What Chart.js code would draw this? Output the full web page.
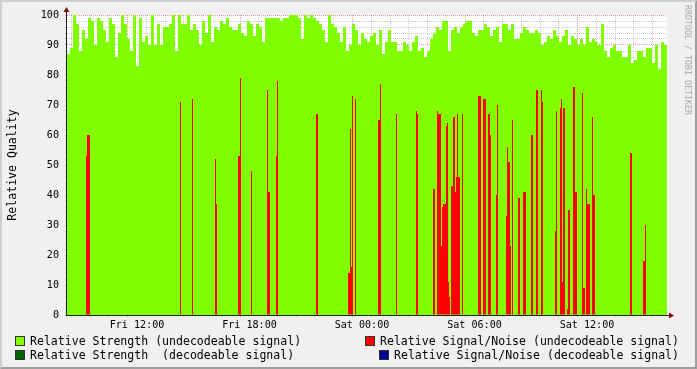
<!DOCTYPE html>
<html>
<head>
<meta charset="utf-8">
<script src="https://cdn.jsdelivr.net/npm/chart.js@4.4.0/dist/chart.umd.min.js"></script>
<style>
  html, body { margin: 0; padding: 0; }
  body {
    width: 697px; height: 369px; position: relative; overflow: hidden;
    background: #f0f0f0; font-family: 'DejaVu Sans Mono', monospace; color: #000;
  }
  #frame {
    position: absolute; left: 0; top: 0; width: 697px; height: 369px; box-sizing: border-box;
    border-top: 2px solid #cfcfcf; border-left: 2px solid #cfcfcf;
    border-right: 2px solid #9e9e9e; border-bottom: 2px solid #9e9e9e;
  }
  #chart { position: absolute; left: 0; top: 0; }
  .ytitle {
    position: absolute; left: -88px; top: 158px; width: 200px; line-height: 14px;
    text-align: center; font-size: 11.55px; transform: rotate(-90deg);
  }
  .mark {
    position: absolute; left: 628px; top: 55px; width: 120px; line-height: 10px;
    text-align: center; font-size: 8.3px; color: #a8a8a8; transform: rotate(90deg);
  }
  .item { position: absolute; font-size: 11.55px; line-height: 12px; white-space: pre; }
  .swatch { position: absolute; width: 8px; height: 8px; border: 1px solid #333; }
</style>
</head>
<body>
<div id="frame"></div>
<canvas id="chart" width="697" height="340"></canvas>
<div class="ytitle">Relative Quality</div>
<div class="mark">RRDTOOL / TOBI OETIKER</div>

<div class="swatch" style="left:15px; top:336px; background:#80ff00"></div>
<div class="item" style="left:30px; top:335px">Relative Strength (undecodeable signal)</div>
<div class="swatch" style="left:15px; top:350px; background:#006400"></div>
<div class="item" style="left:30px; top:349px">Relative Strength  (decodeable signal)</div>
<div class="swatch" style="left:365px; top:336px; background:#ff0000"></div>
<div class="item" style="left:380px; top:335px">Relative Signal/Noise (undecodeable signal)</div>
<div class="swatch" style="left:379px; top:350px; background:#000099"></div>
<div class="item" style="left:394px; top:349px">Relative Signal/Noise (decodeable signal)</div>

<script>
// time in minutes from Fri 00:00
const windowStart = 496;   // Fri 08:16
const windowEnd = 2416;    // Sat 16:16
const stepMinutes = 9.6;

// Relative Strength (undecodeable signal), one value per step
const strengthUndecodeable = [
  87, 89, 100, 97, 88, 95, 92, 99, 98, 90,
  99, 98, 95, 91, 99, 97, 86, 94, 100, 97,
  92, 88, 100, 83, 99, 91, 93, 90, 100, 90,
  97, 90, 96, 96, 97, 100, 88, 100, 97, 97,
  100, 95, 97, 95, 90, 98, 94, 100, 91, 96,
  95, 98, 97, 99, 96, 95, 95, 97, 94, 93,
  98, 97, 93, 97, 96, 91, 99, 99, 99, 99,
  99, 98, 99, 99, 100, 100, 100, 99, 92, 100,
  99, 100, 99, 98, 97, 95, 91, 100, 97, 96,
  94, 91, 96, 88, 90, 97, 95, 90, 94, 92,
  91, 93, 94, 90, 95, 87, 91, 95, 91, 91,
  88, 88, 91, 90, 88, 91, 93, 88, 89, 86,
  88, 92, 94, 96, 95, 98, 98, 88, 95, 96,
  94, 96, 97, 98, 98, 94, 93, 95, 95, 97,
  96, 93, 95, 96, 91, 97, 97, 95, 97, 92,
  92, 94, 96, 95, 94, 94, 95, 94, 90, 91,
  93, 92, 95, 93, 91, 93, 95, 90, 93, 92,
  90, 92, 90, 96, 91, 92, 91, 90, 97, 88,
  86, 89, 90, 88, 88, 86, 86, 90, 84, 85,
  88, 88, 86, 89, 89, 84, 90, 82, 91, 90
];

// Relative Signal/Noise (undecodeable signal): sample time and value
const snMinutes = [
  558.4, 561.6, 564.8, 568.0, 859.2, 897.6, 971.2, 974.4, 1044.8, 1048.0,
  1051.2, 1086.4, 1137.6, 1140.8, 1144.0, 1166.4, 1169.6, 1294.4, 1297.6, 1396.8,
  1400.0, 1403.2, 1406.4, 1409.6, 1419.2, 1492.8, 1496.0, 1499.2, 1550.4, 1614.4,
  1617.6, 1668.8, 1672.0, 1681.6, 1684.8, 1688.0, 1691.2, 1694.4, 1697.6, 1700.8,
  1704.0, 1707.2, 1710.4, 1713.6, 1716.8, 1720.0, 1726.4, 1729.6, 1732.8, 1736.0,
  1739.2, 1742.4, 1745.6, 1748.8, 1752.0, 1761.6, 1812.8, 1816.0, 1819.2, 1828.8,
  1832.0, 1835.2, 1844.8, 1848.0, 1851.2, 1870.4, 1873.6, 1902.4, 1905.6, 1908.8,
  1912.0, 1915.2, 1921.6, 1940.8, 1944.0, 1956.8, 1960.0, 1963.2, 1982.4, 1985.6,
  1998.4, 2001.6, 2014.4, 2017.6, 2059.2, 2062.4, 2075.2, 2078.4, 2081.6, 2084.8,
  2088.0, 2097.6, 2100.8, 2104.0, 2116.8, 2120.0, 2123.2, 2126.4, 2145.6, 2148.8,
  2152.0, 2158.4, 2161.6, 2164.8, 2168.0, 2177.6, 2180.8, 2184.0, 2299.2, 2302.4,
  2340.8, 2344.0, 2347.2
];
const snValues = [
  53, 60, 60, 60, 71, 72, 52, 37, 53, 53,
  79, 48, 75, 41, 41, 53, 78, 67, 67, 14,
  14, 62, 16, 73, 72, 65, 65, 77, 67, 68,
  67, 42, 42, 68, 67, 67, 67, 23, 36, 37,
  37, 37, 63, 64, 11, 6, 43, 43, 66, 66,
  41, 46, 67, 46, 46, 67, 73, 73, 73, 72,
  72, 72, 67, 67, 60, 40, 70, 33, 56, 51,
  51, 23, 65, 39, 39, 41, 41, 41, 60, 60,
  75, 75, 75, 71, 28, 68, 69, 72, 11, 69,
  69, 2, 35, 35, 76, 76, 41, 41, 74, 9,
  9, 42, 37, 37, 37, 66, 40, 40, 54, 54,
  18, 18, 30
];

const tickMinutes = [720, 1080, 1440, 1800, 2160];
const tickLabels = ['Fri 12:00', 'Fri 18:00', 'Sat 00:00', 'Sat 06:00', 'Sat 12:00'];

const MINOR = 'rgba(140,140,140,0.45)';
const MAJOR = 'rgba(210,60,60,0.5)';

const strengthPoints = strengthUndecodeable.map((v, i) => ({ x: windowStart + i * stepMinutes, y: v }));
strengthPoints.push({ x: windowEnd, y: strengthUndecodeable[strengthUndecodeable.length - 1] });
const snPoints = snMinutes.map((m, i) => ({ x: m, y: snValues[i] }));

const hourTicks = [];
for (let m = 540; m <= 2400; m += 60) hourTicks.push({ value: m });
const qualityTicks = [];
for (let v = 0; v <= 100; v += 2) qualityTicks.push({ value: v });

const xGridColor = c => (c.tick && tickMinutes.includes(c.tick.value) ? MAJOR : MINOR);
const yGridColor = c => (c.tick && c.tick.value % 10 === 0 ? MAJOR : MINOR);

const plotFrame = {
  id: 'plotFrame',
  beforeDraw(chart) {
    const { ctx, chartArea: a } = chart;
    ctx.save();
    ctx.fillStyle = '#ffffff';
    ctx.fillRect(a.left, a.top, a.right - a.left, a.bottom - a.top);
    ctx.restore();
  },
  afterDraw(chart) {
    const { ctx, chartArea: a } = chart;
    ctx.save();
    ctx.strokeStyle = '#202020';
    ctx.lineWidth = 1;
    ctx.beginPath();
    ctx.moveTo(a.left - 0.5, a.bottom + 1);
    ctx.lineTo(a.left - 0.5, a.top - 4);
    ctx.moveTo(a.left - 1, a.bottom + 0.5);
    ctx.lineTo(a.right + 4, a.bottom + 0.5);
    ctx.stroke();
    ctx.fillStyle = '#801010';
    ctx.beginPath();
    ctx.moveTo(a.left - 3.5, a.top - 3);
    ctx.lineTo(a.left + 2.5, a.top - 3);
    ctx.lineTo(a.left - 0.5, a.top - 8);
    ctx.closePath();
    ctx.fill();
    ctx.beginPath();
    ctx.moveTo(a.right + 2, a.bottom - 2.5);
    ctx.lineTo(a.right + 2, a.bottom + 3.5);
    ctx.lineTo(a.right + 7, a.bottom + 0.5);
    ctx.closePath();
    ctx.fill();
    ctx.restore();
  }
};

Chart.defaults.font.family = "'DejaVu Sans Mono', monospace";
Chart.defaults.color = '#000';

new Chart(document.getElementById('chart'), {
  type: 'bar',
  data: {
    datasets: [
      {
        type: 'bar',
        label: 'Relative Signal/Noise (undecodeable signal)',
        data: snPoints,
        backgroundColor: '#ff0000',
        borderWidth: 0,
        barThickness: 1,
        inflateAmount: 0,
        grouped: false,
        order: 1
      },
      {
        type: 'line',
        label: 'Relative Strength (undecodeable signal)',
        data: strengthPoints,
        stepped: true,
        fill: 'origin',
        backgroundColor: '#80ff00',
        borderWidth: 0,
        pointRadius: 0,
        order: 2
      }
    ]
  },
  options: {
    responsive: false,
    animation: false,
    events: [],
    layout: { padding: { top: 15, right: 30, left: 0, bottom: 0 } },
    plugins: { legend: { display: false }, tooltip: { enabled: false } },
    scales: {
      x: {
        type: 'linear',
        min: windowStart,
        max: windowEnd,
        offset: false,
        z: 1,
        afterBuildTicks: s => { s.ticks = hourTicks.map(t => ({ value: t.value })); },
        afterFit: s => { s.height = 25; },
        grid: {
          color: xGridColor,
          tickColor: xGridColor,
          tickLength: 2,
          lineWidth: 1
        },
        border: { display: false, dash: [1, 1] },
        ticks: {
          autoSkip: false,
          maxRotation: 0,
          padding: 2,
          font: { size: 10.1 },
          callback: v => {
            const i = tickMinutes.indexOf(v);
            return i >= 0 ? tickLabels[i] : '';
          }
        }
      },
      y: {
        min: 0,
        max: 100,
        z: 1,
        afterBuildTicks: s => { s.ticks = qualityTicks.map(t => ({ value: t.value })); },
        afterFit: s => { s.width = 67; },
        grid: {
          color: yGridColor,
          tickColor: yGridColor,
          tickLength: 2,
          lineWidth: 1
        },
        border: { display: false, dash: [1, 1] },
        ticks: {
          autoSkip: false,
          padding: 6,
          font: { size: 10.1 },
          callback: v => (v % 10 === 0 ? String(v) : '')
        }
      }
    }
  },
  plugins: [plotFrame]
});
</script>
</body>
</html>
